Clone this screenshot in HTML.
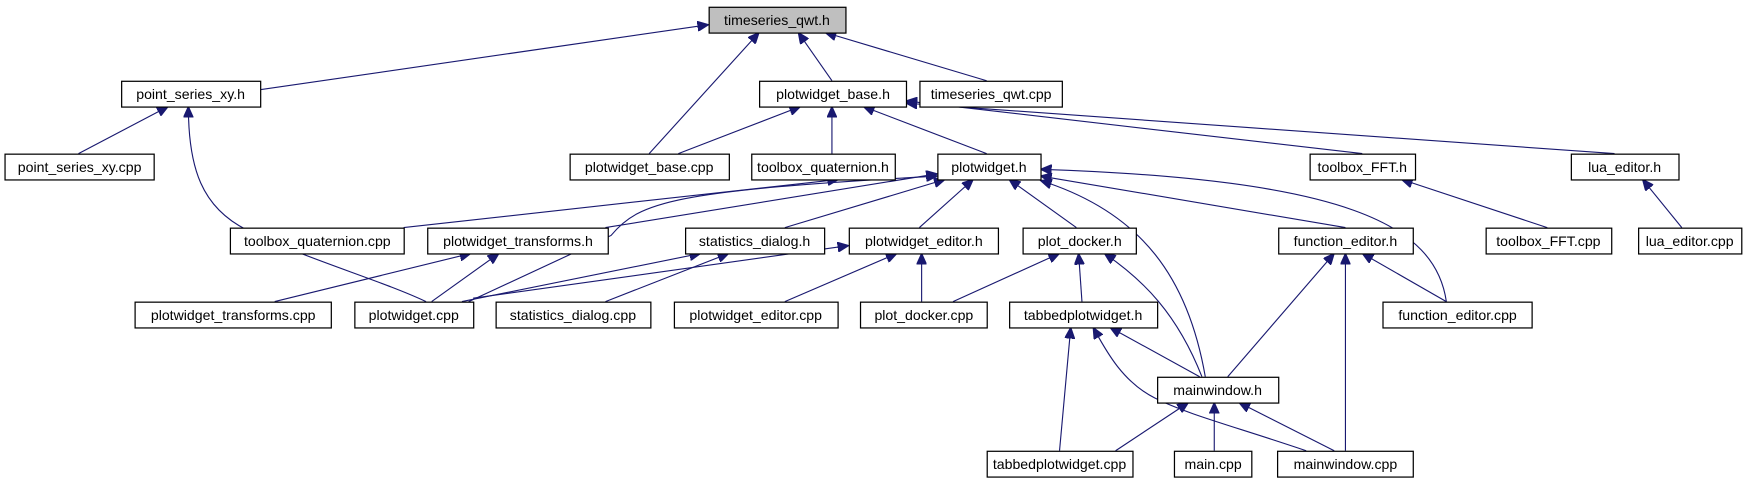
<!DOCTYPE html>
<html><head><meta charset="utf-8"><style>
html,body{margin:0;padding:0;background:#fff;}
svg{display:block;}
text{font-family:"Liberation Sans",sans-serif;font-size:12.6px;fill:#000;}
rect{fill:#fff;stroke:#000;stroke-width:1.1;}
path{fill:none;stroke:#191970;stroke-width:1;}
</style></head><body>
<svg width="1758" height="485" viewBox="0 0 1758 485" xmlns="http://www.w3.org/2000/svg">
<defs>
<marker id="a" markerWidth="11" markerHeight="9" refX="10" refY="4.5" orient="auto" markerUnits="userSpaceOnUse">
<path d="M0,0 L10,4.5 L0,9 Z" style="fill:#191970;stroke:#191970"/>
</marker>
</defs>
<g transform="scale(1.1212)">
<g marker-end="url(#a)">
<path d="M232,80 L632,22"/>
<path d="M579,137 L677,29"/>
<path d="M742,72 L712,29"/>
<path d="M880,72 L736,29"/>
<path d="M70,137 L150,95"/>
<path d="M380,269 C340,250 270,230 220,205 C180,185 168,150 168,95"/>
<path d="M605,137 L714,95"/>
<path d="M742,137 L742,95"/>
<path d="M880,137 L770,95"/>
<path d="M1215,137 L808,90"/>
<path d="M1440,137 L808,92"/>
<path d="M360,203 L748,160"/>
<path d="M540,203 L836,155"/>
<path d="M418,269 C480,240 520,222 545,210 C570,180 600,170 836,157"/>
<path d="M700,203 L843,160"/>
<path d="M820,203 L868,160"/>
<path d="M960,203 L900,160"/>
<path d="M1200,203 L928,157"/>
<path d="M1075,336 C1060,250 1020,190 928,161"/>
<path d="M1290,269 C1280,200 1200,160 928,151"/>
<path d="M1380,203 L1250,160"/>
<path d="M1500,203 L1465,160"/>
<path d="M245,269 L420,226"/>
<path d="M385,269 L445,226"/>
<path d="M412,269 L625,226"/>
<path d="M540,269 L650,226"/>
<path d="M422,266 L757,219"/>
<path d="M700,269 L800,226"/>
<path d="M822,269 L822,226"/>
<path d="M850,269 L945,226"/>
<path d="M965,269 L962,226"/>
<path d="M1072,336 C1050,280 1020,250 985,226"/>
<path d="M1095,336 L1190,226"/>
<path d="M1200,402 L1200,226"/>
<path d="M1290,269 L1215,226"/>
<path d="M1070,336 L990,292"/>
<path d="M945,402 L955,292"/>
<path d="M1165,402 C1100,380 1060,370 1030,355 C1000,340 985,310 975,292"/>
<path d="M995,402 L1060,359"/>
<path d="M1083,402 L1083,359"/>
<path d="M1190,402 L1105,359"/>
</g>
<g>
<rect x="632.5" y="6.5" width="122" height="23" style="fill:#bfbfbf"/><text x="693" y="22.5" text-anchor="middle">timeseries_qwt.h</text>
<rect x="108.5" y="72.5" width="124" height="23"/><text x="170" y="88.5" text-anchor="middle">point_series_xy.h</text>
<rect x="677.5" y="72.5" width="131" height="23"/><text x="743" y="88.5" text-anchor="middle">plotwidget_base.h</text>
<rect x="820.5" y="72.5" width="127" height="23"/><text x="884" y="88.5" text-anchor="middle">timeseries_qwt.cpp</text>
<rect x="4.5" y="137.5" width="133" height="23"/><text x="71" y="153.5" text-anchor="middle">point_series_xy.cpp</text>
<rect x="508.5" y="137.5" width="142" height="23"/><text x="579" y="153.5" text-anchor="middle">plotwidget_base.cpp</text>
<rect x="670.5" y="137.5" width="128" height="23"/><text x="734" y="153.5" text-anchor="middle">toolbox_quaternion.h</text>
<rect x="836.5" y="137.5" width="92" height="23"/><text x="882" y="153.5" text-anchor="middle">plotwidget.h</text>
<rect x="1168.5" y="137.5" width="94" height="23"/><text x="1215" y="153.5" text-anchor="middle">toolbox_FFT.h</text>
<rect x="1401.5" y="137.5" width="96" height="23"/><text x="1449" y="153.5" text-anchor="middle">lua_editor.h</text>
<rect x="205.5" y="203.5" width="155" height="23"/><text x="283" y="219.5" text-anchor="middle">toolbox_quaternion.cpp</text>
<rect x="381.5" y="203.5" width="161" height="23"/><text x="462" y="219.5" text-anchor="middle">plotwidget_transforms.h</text>
<rect x="611.5" y="203.5" width="124" height="23"/><text x="673" y="219.5" text-anchor="middle">statistics_dialog.h</text>
<rect x="757.5" y="203.5" width="133" height="23"/><text x="824" y="219.5" text-anchor="middle">plotwidget_editor.h</text>
<rect x="912.5" y="203.5" width="101" height="23"/><text x="963" y="219.5" text-anchor="middle">plot_docker.h</text>
<rect x="1140.5" y="203.5" width="120" height="23"/><text x="1200" y="219.5" text-anchor="middle">function_editor.h</text>
<rect x="1325.5" y="203.5" width="112" height="23"/><text x="1381" y="219.5" text-anchor="middle">toolbox_FFT.cpp</text>
<rect x="1461.5" y="203.5" width="92" height="23"/><text x="1507" y="219.5" text-anchor="middle">lua_editor.cpp</text>
<rect x="120.5" y="269.5" width="175" height="23"/><text x="208" y="285.5" text-anchor="middle">plotwidget_transforms.cpp</text>
<rect x="316.5" y="269.5" width="106" height="23"/><text x="369" y="285.5" text-anchor="middle">plotwidget.cpp</text>
<rect x="442.5" y="269.5" width="138" height="23"/><text x="511" y="285.5" text-anchor="middle">statistics_dialog.cpp</text>
<rect x="601.5" y="269.5" width="146" height="23"/><text x="674" y="285.5" text-anchor="middle">plotwidget_editor.cpp</text>
<rect x="767.5" y="269.5" width="113" height="23"/><text x="824" y="285.5" text-anchor="middle">plot_docker.cpp</text>
<rect x="900.5" y="269.5" width="132" height="23"/><text x="966" y="285.5" text-anchor="middle">tabbedplotwidget.h</text>
<rect x="1233.5" y="269.5" width="133" height="23"/><text x="1300" y="285.5" text-anchor="middle">function_editor.cpp</text>
<rect x="1032.5" y="336.5" width="108" height="23"/><text x="1086" y="352.5" text-anchor="middle">mainwindow.h</text>
<rect x="880.5" y="402.5" width="130" height="23"/><text x="945" y="418.5" text-anchor="middle">tabbedplotwidget.cpp</text>
<rect x="1047.5" y="402.5" width="69" height="23"/><text x="1082" y="418.5" text-anchor="middle">main.cpp</text>
<rect x="1139.5" y="402.5" width="121" height="23"/><text x="1200" y="418.5" text-anchor="middle">mainwindow.cpp</text>
</g>
</g>
</svg>
</body></html>
